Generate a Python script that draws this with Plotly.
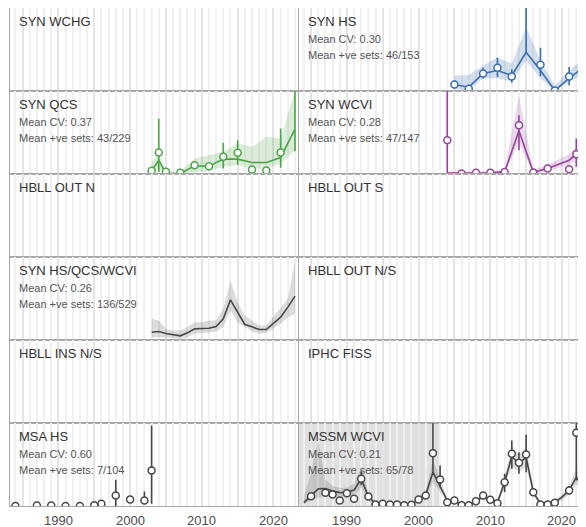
import plotly.graph_objects as go
from plotly.subplots import make_subplots

# ---- panel titles and summary stats ----
panel_titles = ["SYN WCHG", "SYN HS",
                "SYN QCS", "SYN WCVI",
                "HBLL OUT N", "HBLL OUT S",
                "SYN HS/QCS/WCVI", "HBLL OUT N/S",
                "HBLL INS N/S", "IPHC FISS",
                "MSA HS", "MSSM WCVI"]
mean_cv = {"SYN HS": "0.30", "SYN QCS": "0.37", "SYN WCVI": "0.28",
           "SYN HS/QCS/WCVI": "0.26", "MSA HS": "0.60", "MSSM WCVI": "0.21"}
pos_sets = {"SYN HS": "46/153", "SYN QCS": "43/229", "SYN WCVI": "47/147",
            "SYN HS/QCS/WCVI": "136/529", "MSA HS": "7/104", "MSSM WCVI": "65/78"}

# ---- SYN HS (relative index) ----
hs_years = [2005, 2007, 2009, 2011, 2013, 2015, 2017, 2019, 2021, 2023]
hs_fit = [7.8, 4.6, 21.1, 24.7, 18.7, 46.7, 24.7, 0.6, 15.4, 28.6]
hs_fit_lo = [2.7, 0.6, 15.4, 15.4, 11.4, 36.7, 15.0, 0.0, 10.2, 21.0]
hs_fit_hi = [19.0, 19.0, 30.7, 40.7, 32.8, 76.9, 36.7, 6.6, 24.7, 39.2]
hs_obs = [7.8, 2.6, 21.0, 28.0, 17.5, 130, 31.5, 0.5, 17.5, 28.7]
hs_obs_lo = [3, 0, 15, 17, 10, 47, 18, 0, 7, 19]
hs_obs_hi = [13, 6, 28, 40, 26, 250, 52, 2, 29, 43]

# ---- SYN QCS ----
qcs_years = [2003, 2004, 2005, 2007, 2009, 2011, 2013, 2015, 2017, 2019, 2021, 2023]
qcs_fit = [3.8, 16.6, 0.6, 0.6, 9.8, 9.4, 17.9, 17.9, 13.9, 13.9, 19.9, 54.0]
qcs_fit_lo = [0, 5, 0, 0, 2.2, 3.4, 8.7, 10.6, 6.6, 6.6, 12.6, 28.7]
qcs_fit_hi = [14, 25, 3, 3, 18.7, 22.7, 26.7, 36.7, 32.7, 44.8, 42.8, 101]
qcs_obs = [3.8, 25.9, 2.6, 1.4, 10.6, 9.4, 20.7, 25.5, 5.4, 4.2, 25.9, 115]
qcs_obs_lo = [1, 2.6, 0.5, 0.3, 6, 6, 6.6, 11.4, 2, 1.5, 7.5, 27.5]
qcs_obs_hi = [7, 66.7, 5, 3, 14, 13, 37.6, 40.7, 9, 8, 54.8, 250]

# ---- SYN WCVI ----
wcvi_years = [2004, 2006, 2008, 2010, 2012, 2014, 2016, 2018, 2021, 2022]
wcvi_fit = [1.0, 1.0, 1.5, 1.5, 2.5, 52.0, 2.0, 6.6, 16.6, 24.0]
wcvi_fit_lo = [0, 0, 0.3, 0.3, 0.8, 38, 0.5, 3, 11, 16]
wcvi_fit_hi = [3, 2.5, 3, 3, 5, 95, 5, 11, 24, 33]
wcvi_obs = [40.7, 0.5, 1.5, 1.5, 2.5, 58.8, 1.8, 6.6, 5.8, 23.9]
wcvi_obs_lo = [0, 0, 0.5, 0.5, 1, 28.7, 0.5, 3, 2, 8.7]
wcvi_obs_hi = [300, 1.5, 3, 3, 5, 70.8, 4, 11, 10, 42.8]

# ---- SYN HS/QCS/WCVI (model only) ----
syn_years = [2003, 2004, 2005, 2006, 2007, 2008, 2009, 2010, 2011, 2012,
             2013, 2014, 2015, 2016, 2017, 2018, 2019, 2021, 2022, 2023]
syn_fit = [9.4, 10.2, 7.8, 6.2, 5.0, 8.6, 13.4, 13.8, 14.2, 16.3,
           25.5, 48.4, 33.5, 18.7, 15.9, 12.6, 12.6, 27.5, 39.6, 52.8]
syn_fit_lo = [3.4, 3.4, 3.4, 2.2, 1.4, 3.4, 7.4, 8.6, 8.6, 10.2,
              15.5, 35.5, 21.5, 15.5, 10.2, 7.4, 8.6, 19.5, 27.5, 31.5]
syn_fit_hi = [25.5, 23.5, 13.5, 11.4, 11.4, 15.5, 21.5, 21.5, 23.5, 23.5,
              37.6, 71.7, 45.6, 29.5, 23.5, 17.5, 17.5, 39.6, 49.6, 95.8]

# ---- MSA HS (design-based only) ----
msa_years = [1984, 1987, 1989, 1991, 1993, 1995, 1996, 1998, 2000, 2002, 2003]
msa_obs = [0, 0.5, 0.5, 0, 0, 1.0, 2.6, 12.6, 7.8, 6.6, 42.8]
msa_obs_lo = [0, 0, 0, 0, 0, 0.2, 1, 0, 5, 2.6, 2.6]
msa_obs_hi = [0.5, 1.5, 1.5, 0.5, 0.5, 2, 4.5, 31.5, 11, 17.5, 97]

# ---- MSSM WCVI ----
mssm_fit_years = list(range(1984, 2024))
mssm_fit = [4, 12, 20.7, 21.1, 18.1, 16.1, 16.5, 19.3, 32.7, 11.4,
            2.6, 2.6, 1.8, 1.8, 1.4, 1.8, 7.4, 13.9, 40.8, 24,
            6.6, 5.8, 1.8, 1.4, 5.8, 11.4, 7.4, 4.6, 28.7, 59.7,
            50.9, 58.9, 16.7, 2.6, 2.6, 4.6, 10.6, 18.7, 34.7, 22.7]
mssm_fit_lo = [2, 7, 10, 13, 12, 11, 12, 13, 22, 7,
               1.2, 1.2, 0.8, 0.8, 0.6, 0.8, 4.5, 9, 29, 17,
               4, 3.5, 0.8, 0.6, 3.5, 8, 5, 2.8, 22, 48,
               41, 47, 12, 1.5, 1.5, 2.8, 7, 14, 26, 17]
mssm_fit_hi = [12, 40, 79, 32, 24, 22, 22, 27, 47, 16,
               4.5, 4.5, 3.5, 3.5, 3, 3.5, 10, 18, 56, 33,
               9, 8, 3, 3, 8, 15, 10, 7, 36, 72,
               62, 71, 22, 4, 4, 7, 14, 24, 45, 29]
mssm_years = [1985] + list(range(1987, 2020)) + [2021, 2022, 2023]
mssm_obs = [11.8, 15.9, 13.9, 6.6, 15.5, 8.6, 32.7, 11.4, 1.8, 2.6,
            1.8, 1.8, 1.0, 1.4, 7.8, 12.6, 63.7, 31.9, 4.6, 6.6,
            1.0, 1.0, 5.8, 12.6, 7.4, 3.4, 28.7, 62.9, 52.0, 62.0,
            16.7, 1.8, 1.8, 3.8, 18.7, 88.2, 22.7]
mssm_obs_lo = [8, 12, 10.5, 4.5, 12, 6, 25, 8.5, 1, 1.5,
               1, 1, 0.5, 0.8, 5.5, 9.5, 38.8, 22.7, 3, 4.5,
               0.5, 0.5, 4, 9.5, 5.5, 2.2, 16.7, 44.8, 38.8, 40.7,
               12.5, 1, 1, 2.5, 14, 30.7, 14]
mssm_obs_hi = [15.5, 20, 17.5, 9, 19.5, 11.5, 42, 14.5, 2.8, 3.8,
               2.8, 2.8, 1.6, 2.2, 10.5, 16, 150, 48.8, 6.5, 9,
               1.6, 1.6, 8, 16, 9.5, 4.8, 38.8, 78.9, 64.8, 85.8,
               21, 2.8, 2.8, 5.3, 24, 150, 33]
mssm_shade_end = 2003

year_labels = [1990, 2000, 2010, 2020]

FONT = "Liberation Sans, Arial, sans-serif"
BLUE, GREEN, PURPLE, GREY = "#3a6fb0", "#4aa547", "#95449e", "#474747"

fig = make_subplots(rows=6, cols=2, horizontal_spacing=1 / 576, vertical_spacing=0)

# empty placeholder so every facet gets drawn
for r in range(1, 7):
    for c in range(1, 3):
        fig.add_trace(go.Scatter(x=[None], y=[None], mode="lines", showlegend=False,
                                 hoverinfo="skip"), row=r, col=c)


def ribbon(row, col, years, lo, hi, fill):
    fig.add_trace(go.Scatter(x=years + years[::-1], y=hi + lo[::-1], fill="toself",
                             fillcolor=fill, line=dict(width=0), mode="lines",
                             hoverinfo="skip", showlegend=False), row=row, col=col)


def fit_line(row, col, years, vals, color):
    fig.add_trace(go.Scatter(x=years, y=vals, mode="lines", showlegend=False,
                             line=dict(color=color, width=1.6)), row=row, col=col)


def points(row, col, years, vals, lo, hi, color):
    xs, ys = [], []
    for yr, a, b in zip(years, lo, hi):
        xs += [yr, yr, None]
        ys += [a, b, None]
    fig.add_trace(go.Scatter(x=xs, y=ys, mode="lines", showlegend=False,
                             line=dict(color=color, width=1.6)), row=row, col=col)
    fig.add_trace(go.Scatter(x=years, y=vals, mode="markers", showlegend=False,
                             marker=dict(symbol="circle", size=7, color="white",
                                         line=dict(color=color, width=1.5))),
                  row=row, col=col)


# SYN HS
ribbon(1, 2, hs_years, hs_fit_lo, hs_fit_hi, "rgba(58,111,176,0.22)")
fit_line(1, 2, hs_years, hs_fit, BLUE)
points(1, 2, hs_years, hs_obs, hs_obs_lo, hs_obs_hi, BLUE)
# SYN QCS
ribbon(2, 1, qcs_years, qcs_fit_lo, qcs_fit_hi, "rgba(74,165,71,0.2)")
fit_line(2, 1, qcs_years, qcs_fit, GREEN)
points(2, 1, qcs_years, qcs_obs, qcs_obs_lo, qcs_obs_hi, GREEN)
# SYN WCVI
ribbon(2, 2, wcvi_years, wcvi_fit_lo, wcvi_fit_hi, "rgba(149,68,158,0.2)")
fit_line(2, 2, wcvi_years, wcvi_fit, PURPLE)
points(2, 2, wcvi_years, wcvi_obs, wcvi_obs_lo, wcvi_obs_hi, PURPLE)
# SYN HS/QCS/WCVI
ribbon(4, 1, syn_years, syn_fit_lo, syn_fit_hi, "rgba(80,80,80,0.2)")
fit_line(4, 1, syn_years, syn_fit, GREY)
# MSA HS
points(6, 1, msa_years, msa_obs, msa_obs_lo, msa_obs_hi, GREY)
# MSSM WCVI
ribbon(6, 2, mssm_fit_years, mssm_fit_lo, mssm_fit_hi, "rgba(80,80,80,0.2)")
fit_line(6, 2, mssm_fit_years, mssm_fit, GREY)
points(6, 2, mssm_years, mssm_obs, mssm_obs_lo, mssm_obs_hi, GREY)

x_range = [1983.25, 2023.35]
fig.add_shape(type="rect", xref="x12", yref="y12 domain", x0=x_range[0], x1=mssm_shade_end,
              y0=0, y1=1, fillcolor="rgba(0,0,0,0.12)", line=dict(width=0), layer="below")

tick_years = [1985, 1990, 1995, 2000, 2005, 2010, 2015, 2020]

fig.update_xaxes(range=x_range, tickvals=tick_years, automargin=False,
                 showgrid=True, gridcolor="#e4e4e4", gridwidth=2,
                 minor=dict(dtick=1, tick0=1980, showgrid=True, gridcolor="#f0f0f0", gridwidth=1.5),
                 showline=True, mirror=True, linecolor="#a8a8a8", linewidth=1.2,
                 zeroline=False, showticklabels=False, ticks="")
fig.update_yaxes(range=[0, 100], showgrid=False, showticklabels=False, zeroline=False,
                 automargin=False, showline=True, mirror=True, linecolor="#a8a8a8", linewidth=1.2)

# bottom-row year labels
for xa in ["x11", "x12"]:
    for yr in year_labels:
        fig.add_annotation(text=str(yr), xref=xa, yref="paper", x=yr, y=0, yanchor="top",
                           xanchor="center", yshift=-5, showarrow=False,
                           font=dict(family=FONT, size=13, color="#4d4d4d"))

for i, name in enumerate(panel_titles):
    n = "" if i == 0 else str(i + 1)
    fig.add_annotation(text=name, xref=f"x{n} domain", yref=f"y{n} domain", x=0, y=1,
                       xanchor="left", yanchor="top", xshift=7, yshift=-4, showarrow=False,
                       font=dict(family=FONT, size=13, color="#333333"))
    if name in mean_cv:
        fig.add_annotation(text=f"Mean CV: {mean_cv[name]}", xref=f"x{n} domain",
                           yref=f"y{n} domain", x=0, y=1, xanchor="left", yanchor="top",
                           xshift=7, yshift=-23, showarrow=False,
                           font=dict(family=FONT, size=11, color="#555555"))
        fig.add_annotation(text=f"Mean +ve sets: {pos_sets[name]}", xref=f"x{n} domain",
                           yref=f"y{n} domain", x=0, y=1, xanchor="left", yanchor="top",
                           xshift=7, yshift=-39, showarrow=False,
                           font=dict(family=FONT, size=11, color="#555555"))

# page body adds an 8px offset, so the figure itself is shifted back by that amount
fig.update_layout(width=578, height=527, margin=dict(l=2, r=0, t=0, b=29),
                  plot_bgcolor="white", paper_bgcolor="white", showlegend=False)

fig.write_html("out.html")
